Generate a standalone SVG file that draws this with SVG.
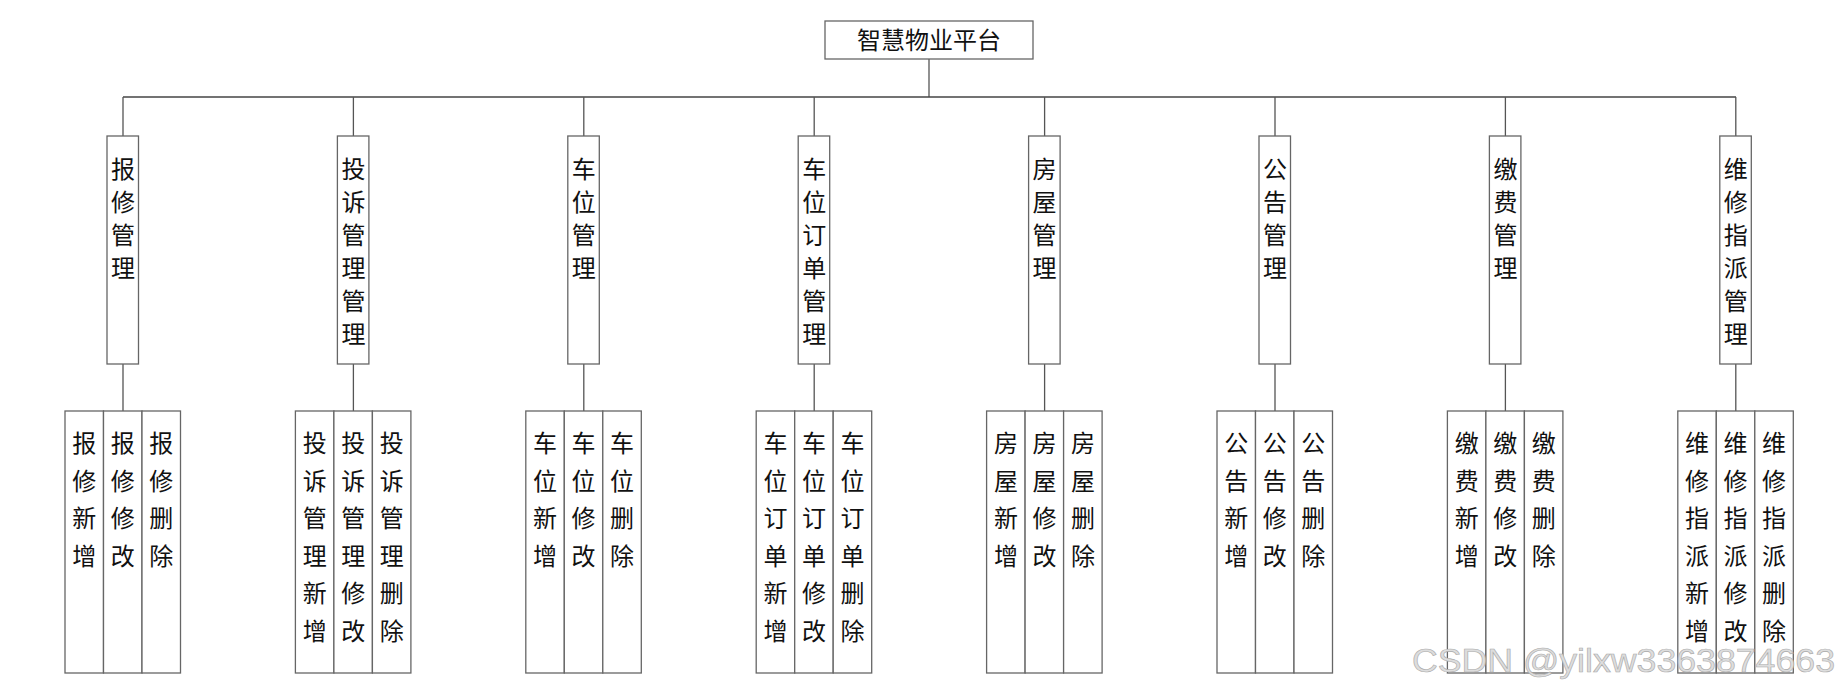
<svg xmlns="http://www.w3.org/2000/svg" width="1839" height="692" viewBox="0 0 1839 692">
<style>
.box{fill:#fff;stroke:#666;stroke-width:1.3}
.ln{fill:none;stroke:#555;stroke-width:1.3}
.hl{fill:none;stroke:#444;stroke-width:1.5}
.t{font-family:"Noto Sans CJK SC","Noto Sans",sans-serif;font-size:24px;fill:#111;text-anchor:middle}
.wm{font-family:"Liberation Sans",Arial,sans-serif;font-size:33px;fill:#ddd;stroke:#aaa;stroke-width:0.6}
</style>
<rect width="1839" height="692" fill="#fff"/>
<g id="connectors">
<path class="ln" d="M929 59V97"/>
<path class="hl" d="M123 97H1736"/>
<path class="ln" d="M123 97V136M353.4 97V136M583.8 97V136M814.2 97V136M1044.6 97V136M1275 97V136M1505.4 97V136M1735.8 97V136"/>
<path class="ln" d="M123 364V411M353.4 364V411M583.8 364V411M814.2 364V411M1044.6 364V411M1275 364V411M1505.4 364V411M1735.8 364V411"/>
</g>
<g id="root">
<rect class="box" x="825" y="21" width="208" height="38"/>
<text class="t" x="929" y="49" font-size="25">智慧物业平台</text>
</g>
<g id="m1">
<rect class="box" x="107" y="136" width="31.5" height="228"/>
<text class="t" x="123"><tspan x="123" y="178">报</tspan><tspan x="123" dy="33">修</tspan><tspan x="123" dy="33">管</tspan><tspan x="123" dy="33">理</tspan></text>
</g>
<g id="m1s">
<rect class="box" x="65" y="411" width="38.5" height="262"/><rect class="box" x="103.5" y="411" width="38.5" height="262"/><rect class="box" x="142" y="411" width="38.5" height="262"/>
<text class="t"><tspan x="84.3" y="452">报</tspan><tspan x="84.3" dy="37.5">修</tspan><tspan x="84.3" dy="37.5">新</tspan><tspan x="84.3" dy="37.5">增</tspan></text>
<text class="t"><tspan x="122.8" y="452">报</tspan><tspan x="122.8" dy="37.5">修</tspan><tspan x="122.8" dy="37.5">修</tspan><tspan x="122.8" dy="37.5">改</tspan></text>
<text class="t"><tspan x="161.3" y="452">报</tspan><tspan x="161.3" dy="37.5">修</tspan><tspan x="161.3" dy="37.5">删</tspan><tspan x="161.3" dy="37.5">除</tspan></text>
</g>
<g id="m2">
<rect class="box" x="337.4" y="136" width="31.5" height="228"/>
<text class="t"><tspan x="353.4" y="178">投</tspan><tspan x="353.4" dy="33">诉</tspan><tspan x="353.4" dy="33">管</tspan><tspan x="353.4" dy="33">理</tspan><tspan x="353.4" dy="33">管</tspan><tspan x="353.4" dy="33">理</tspan></text>
</g>
<g id="m2s">
<rect class="box" x="295.4" y="411" width="38.5" height="262"/><rect class="box" x="333.9" y="411" width="38.5" height="262"/><rect class="box" x="372.4" y="411" width="38.5" height="262"/>
<text class="t"><tspan x="314.7" y="452">投</tspan><tspan x="314.7" dy="37.5">诉</tspan><tspan x="314.7" dy="37.5">管</tspan><tspan x="314.7" dy="37.5">理</tspan><tspan x="314.7" dy="37.5">新</tspan><tspan x="314.7" dy="37.5">增</tspan></text>
<text class="t"><tspan x="353.2" y="452">投</tspan><tspan x="353.2" dy="37.5">诉</tspan><tspan x="353.2" dy="37.5">管</tspan><tspan x="353.2" dy="37.5">理</tspan><tspan x="353.2" dy="37.5">修</tspan><tspan x="353.2" dy="37.5">改</tspan></text>
<text class="t"><tspan x="391.7" y="452">投</tspan><tspan x="391.7" dy="37.5">诉</tspan><tspan x="391.7" dy="37.5">管</tspan><tspan x="391.7" dy="37.5">理</tspan><tspan x="391.7" dy="37.5">删</tspan><tspan x="391.7" dy="37.5">除</tspan></text>
</g>
<g id="m3">
<rect class="box" x="567.8" y="136" width="31.5" height="228"/>
<text class="t"><tspan x="583.8" y="178">车</tspan><tspan x="583.8" dy="33">位</tspan><tspan x="583.8" dy="33">管</tspan><tspan x="583.8" dy="33">理</tspan></text>
</g>
<g id="m3s">
<rect class="box" x="525.8" y="411" width="38.5" height="262"/><rect class="box" x="564.3" y="411" width="38.5" height="262"/><rect class="box" x="602.8" y="411" width="38.5" height="262"/>
<text class="t"><tspan x="545.1" y="452">车</tspan><tspan x="545.1" dy="37.5">位</tspan><tspan x="545.1" dy="37.5">新</tspan><tspan x="545.1" dy="37.5">增</tspan></text>
<text class="t"><tspan x="583.6" y="452">车</tspan><tspan x="583.6" dy="37.5">位</tspan><tspan x="583.6" dy="37.5">修</tspan><tspan x="583.6" dy="37.5">改</tspan></text>
<text class="t"><tspan x="622.1" y="452">车</tspan><tspan x="622.1" dy="37.5">位</tspan><tspan x="622.1" dy="37.5">删</tspan><tspan x="622.1" dy="37.5">除</tspan></text>
</g>
<g id="m4">
<rect class="box" x="798.2" y="136" width="31.5" height="228"/>
<text class="t"><tspan x="814.2" y="178">车</tspan><tspan x="814.2" dy="33">位</tspan><tspan x="814.2" dy="33">订</tspan><tspan x="814.2" dy="33">单</tspan><tspan x="814.2" dy="33">管</tspan><tspan x="814.2" dy="33">理</tspan></text>
</g>
<g id="m4s">
<rect class="box" x="756.2" y="411" width="38.5" height="262"/><rect class="box" x="794.7" y="411" width="38.5" height="262"/><rect class="box" x="833.2" y="411" width="38.5" height="262"/>
<text class="t"><tspan x="775.5" y="452">车</tspan><tspan x="775.5" dy="37.5">位</tspan><tspan x="775.5" dy="37.5">订</tspan><tspan x="775.5" dy="37.5">单</tspan><tspan x="775.5" dy="37.5">新</tspan><tspan x="775.5" dy="37.5">增</tspan></text>
<text class="t"><tspan x="814" y="452">车</tspan><tspan x="814" dy="37.5">位</tspan><tspan x="814" dy="37.5">订</tspan><tspan x="814" dy="37.5">单</tspan><tspan x="814" dy="37.5">修</tspan><tspan x="814" dy="37.5">改</tspan></text>
<text class="t"><tspan x="852.5" y="452">车</tspan><tspan x="852.5" dy="37.5">位</tspan><tspan x="852.5" dy="37.5">订</tspan><tspan x="852.5" dy="37.5">单</tspan><tspan x="852.5" dy="37.5">删</tspan><tspan x="852.5" dy="37.5">除</tspan></text>
</g>
<g id="m5">
<rect class="box" x="1028.6" y="136" width="31.5" height="228"/>
<text class="t"><tspan x="1044.6" y="178">房</tspan><tspan x="1044.6" dy="33">屋</tspan><tspan x="1044.6" dy="33">管</tspan><tspan x="1044.6" dy="33">理</tspan></text>
</g>
<g id="m5s">
<rect class="box" x="986.6" y="411" width="38.5" height="262"/><rect class="box" x="1025.1" y="411" width="38.5" height="262"/><rect class="box" x="1063.6" y="411" width="38.5" height="262"/>
<text class="t"><tspan x="1005.9" y="452">房</tspan><tspan x="1005.9" dy="37.5">屋</tspan><tspan x="1005.9" dy="37.5">新</tspan><tspan x="1005.9" dy="37.5">增</tspan></text>
<text class="t"><tspan x="1044.4" y="452">房</tspan><tspan x="1044.4" dy="37.5">屋</tspan><tspan x="1044.4" dy="37.5">修</tspan><tspan x="1044.4" dy="37.5">改</tspan></text>
<text class="t"><tspan x="1082.9" y="452">房</tspan><tspan x="1082.9" dy="37.5">屋</tspan><tspan x="1082.9" dy="37.5">删</tspan><tspan x="1082.9" dy="37.5">除</tspan></text>
</g>
<g id="m6">
<rect class="box" x="1259" y="136" width="31.5" height="228"/>
<text class="t"><tspan x="1275" y="178">公</tspan><tspan x="1275" dy="33">告</tspan><tspan x="1275" dy="33">管</tspan><tspan x="1275" dy="33">理</tspan></text>
</g>
<g id="m6s">
<rect class="box" x="1217" y="411" width="38.5" height="262"/><rect class="box" x="1255.5" y="411" width="38.5" height="262"/><rect class="box" x="1294" y="411" width="38.5" height="262"/>
<text class="t"><tspan x="1236.3" y="452">公</tspan><tspan x="1236.3" dy="37.5">告</tspan><tspan x="1236.3" dy="37.5">新</tspan><tspan x="1236.3" dy="37.5">增</tspan></text>
<text class="t"><tspan x="1274.8" y="452">公</tspan><tspan x="1274.8" dy="37.5">告</tspan><tspan x="1274.8" dy="37.5">修</tspan><tspan x="1274.8" dy="37.5">改</tspan></text>
<text class="t"><tspan x="1313.3" y="452">公</tspan><tspan x="1313.3" dy="37.5">告</tspan><tspan x="1313.3" dy="37.5">删</tspan><tspan x="1313.3" dy="37.5">除</tspan></text>
</g>
<g id="m7">
<rect class="box" x="1489.4" y="136" width="31.5" height="228"/>
<text class="t"><tspan x="1505.4" y="178">缴</tspan><tspan x="1505.4" dy="33">费</tspan><tspan x="1505.4" dy="33">管</tspan><tspan x="1505.4" dy="33">理</tspan></text>
</g>
<g id="m7s">
<rect class="box" x="1447.4" y="411" width="38.5" height="262"/><rect class="box" x="1485.9" y="411" width="38.5" height="262"/><rect class="box" x="1524.4" y="411" width="38.5" height="262"/>
<text class="t"><tspan x="1466.7" y="452">缴</tspan><tspan x="1466.7" dy="37.5">费</tspan><tspan x="1466.7" dy="37.5">新</tspan><tspan x="1466.7" dy="37.5">增</tspan></text>
<text class="t"><tspan x="1505.2" y="452">缴</tspan><tspan x="1505.2" dy="37.5">费</tspan><tspan x="1505.2" dy="37.5">修</tspan><tspan x="1505.2" dy="37.5">改</tspan></text>
<text class="t"><tspan x="1543.7" y="452">缴</tspan><tspan x="1543.7" dy="37.5">费</tspan><tspan x="1543.7" dy="37.5">删</tspan><tspan x="1543.7" dy="37.5">除</tspan></text>
</g>
<g id="m8">
<rect class="box" x="1719.8" y="136" width="31.5" height="228"/>
<text class="t"><tspan x="1735.8" y="178">维</tspan><tspan x="1735.8" dy="33">修</tspan><tspan x="1735.8" dy="33">指</tspan><tspan x="1735.8" dy="33">派</tspan><tspan x="1735.8" dy="33">管</tspan><tspan x="1735.8" dy="33">理</tspan></text>
</g>
<g id="m8s">
<rect class="box" x="1677.8" y="411" width="38.5" height="262"/><rect class="box" x="1716.3" y="411" width="38.5" height="262"/><rect class="box" x="1754.8" y="411" width="38.5" height="262"/>
<text class="t"><tspan x="1697.1" y="452">维</tspan><tspan x="1697.1" dy="37.5">修</tspan><tspan x="1697.1" dy="37.5">指</tspan><tspan x="1697.1" dy="37.5">派</tspan><tspan x="1697.1" dy="37.5">新</tspan><tspan x="1697.1" dy="37.5">增</tspan></text>
<text class="t"><tspan x="1735.6" y="452">维</tspan><tspan x="1735.6" dy="37.5">修</tspan><tspan x="1735.6" dy="37.5">指</tspan><tspan x="1735.6" dy="37.5">派</tspan><tspan x="1735.6" dy="37.5">修</tspan><tspan x="1735.6" dy="37.5">改</tspan></text>
<text class="t"><tspan x="1774.1" y="452">维</tspan><tspan x="1774.1" dy="37.5">修</tspan><tspan x="1774.1" dy="37.5">指</tspan><tspan x="1774.1" dy="37.5">派</tspan><tspan x="1774.1" dy="37.5">删</tspan><tspan x="1774.1" dy="37.5">除</tspan></text>
</g>
<text class="wm" x="1412" y="672" textLength="423" lengthAdjust="spacingAndGlyphs">CSDN @yilxw3363874663</text>
</svg>
